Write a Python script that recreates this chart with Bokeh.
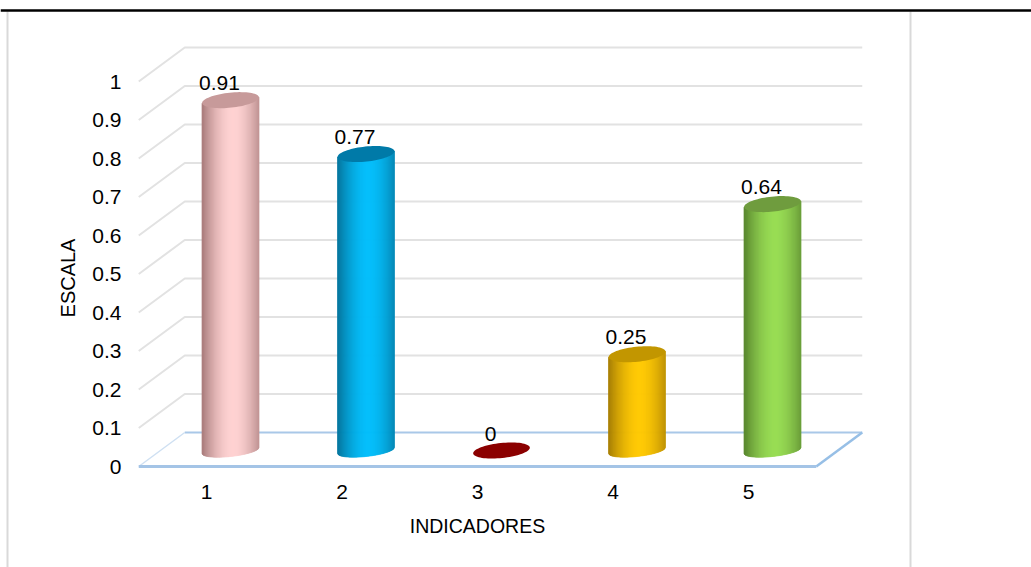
from bokeh.embed import file_html
from bokeh.models import FixedTicker, LinearAxis, Range1d
from bokeh.plotting import figure
from bokeh.resources import INLINE
from bokeh.core.properties import value
import math

# Chart data
categories = [1, 2, 3, 4, 5]
scores = [0.91, 0.77, 0, 0.25, 0.64]
score_labels = ["0.91", "0.77", "0", "0.25", "0.64"]
y_ticks = [0, 0.1, 0.2, 0.3, 0.4, 0.5, 0.6, 0.7, 0.8, 0.9, 1]
y_tick_labels = ["0", "0.1", "0.2", "0.3", "0.4", "0.5", "0.6", "0.7", "0.8", "0.9", "1"]
x_title = "INDICADORES"
y_title = "ESCALA"

# Cylinder colours: lit centre, shaded edge, top cap
body_light = ["#ffd3d3", "#00bdfb", "#8b0000", "#ffc800", "#99dd55"]
body_dark = ["#ad8080", "#00759f", "#8b0000", "#a97f00", "#5c8a31"]
cap_color = ["#c79a9a", "#007aa8", "#8b0000", "#c29600", "#6f9c3e"]

W, H = 1031, 567
PX_X = 135.5  # pixels per category
PX_Y = 385.0  # pixels per unit of the scale
X0, Y0 = 206.0, 466.0  # page position of category 1 / value 0


def dx(px):
    return px / PX_X


def dy(px):
    return px / PX_Y


def page_x(px):
    return 1 + (px - X0) / PX_X


def page_y(px):
    return (Y0 - px) / PX_Y


p = figure(
    width=W, height=H, output_backend="svg", toolbar_location=None,
    x_range=Range1d(page_x(0), page_x(W)), y_range=Range1d(page_y(H), page_y(0)),
    x_axis_location=None, y_axis_location=None,
    min_border=0, outline_line_color=None, background_fill_color="white",
)
p.grid.visible = False

# Panel edges
for x in (7, 910):
    p.segment(page_x(x), page_y(11), page_x(x), page_y(H), line_color="#d9d9d9", line_width=2)
p.segment(page_x(0), page_y(10), page_x(W), page_y(10), line_color="#000000", line_width=2.5)

# Floor and wall geometry
LEFT, RIGHT = 0.5, 5.5
DEPTH_X, DEPTH_Y = dx(46), dy(34)

# Gridlines on the back wall with their slanted side-wall part
for v in y_ticks[1:]:
    p.line([LEFT, LEFT + DEPTH_X, RIGHT + DEPTH_X], [v, v + DEPTH_Y, v + DEPTH_Y],
           line_color="#e2e2e2", line_width=2)

# Floor outline
p.line([LEFT + DEPTH_X, RIGHT + DEPTH_X], [DEPTH_Y, DEPTH_Y], line_color="#a9c8e8", line_width=2)
p.line([LEFT, LEFT + DEPTH_X], [0, DEPTH_Y], line_color="#cfe0f2", line_width=1.5)
p.line([RIGHT, RIGHT + DEPTH_X], [0, DEPTH_Y], line_color="#97bfe6", line_width=2.5)
p.line([LEFT, RIGHT], [0, 0], line_color="#a4c4e6", line_width=3)

# Cylinders
RADIUS = 28.5
BASE_MINOR = 6.0
CAP_MINOR = 7.5
TILT = 3.0
OFFSET_X, OFFSET_Y = dx(24), dy(16)
CAP_ANGLE = math.atan2(TILT, RADIUS)


def mix(a, b, t):
    ca = [int(a[i:i + 2], 16) for i in (1, 3, 5)]
    cb = [int(b[i:i + 2], 16) for i in (1, 3, 5)]
    return "#%02x%02x%02x" % tuple(round(u + (w - u) * t) for u, w in zip(ca, cb))


for cat, v, light, dark, cap in zip(categories, scores, body_light, body_dark, cap_color):
    cx = cat + OFFSET_X
    base = OFFSET_Y
    top = v + OFFSET_Y
    if v > 0:
        xs, ys, colors = [], [], []
        steps = int(RADIUS * 2)
        for i in range(steps):
            u0 = -1 + 2 * i / steps
            u1 = -1 + 2 * (i + 1) / steps
            mid = (u0 + u1) / 2
            # Highlight sits a little right of centre; the edges fall off smoothly
            shade = min(1.0, abs(mid - 0.1) / 1.05) ** 1.8
            low0 = base + dy(TILT * u0 - BASE_MINOR * math.sqrt(max(0, 1 - u0 * u0)))
            low1 = base + dy(TILT * u1 - BASE_MINOR * math.sqrt(max(0, 1 - u1 * u1)))
            high0 = top + dy(TILT * u0)
            high1 = top + dy(TILT * u1)
            xs.append([cx + dx(RADIUS * u0), cx + dx(RADIUS * u1), cx + dx(RADIUS * u1), cx + dx(RADIUS * u0)])
            ys.append([low0, low1, high1, high0])
            colors.append(mix(light, dark, shade))
        p.patches(xs, ys, fill_color=colors, line_color=colors, line_width=0.7)
    # Top cap: an oval turned to follow the slant of the body
    turns = [2 * math.pi * k / 72 for k in range(72)]
    c_a, s_a = math.cos(CAP_ANGLE), math.sin(CAP_ANGLE)
    p.patch(
        [cx + dx(RADIUS * math.cos(t) * c_a - CAP_MINOR * math.sin(t) * s_a) for t in turns],
        [top + dy(RADIUS * math.cos(t) * s_a + CAP_MINOR * math.sin(t) * c_a) for t in turns],
        fill_color=cap, line_color=None,
    )

# Value labels above each cylinder
p.text(
    x=[c + OFFSET_X for c in categories], y=[v + OFFSET_Y for v in scores], text=score_labels,
    text_font=value("Liberation Sans"), text_font_size="21px", text_color="#000000",
    text_align="center", text_baseline="alphabetic", x_offset=-11, y_offset=-17,
)

# Axes sit at fixed positions over the plot area
y_axis = LinearAxis(
    fixed_location=page_x(128), bounds=(-0.02, 1), ticker=FixedTicker(ticks=y_ticks),
    major_label_overrides=dict(zip(y_ticks, y_tick_labels)),
    axis_label=y_title, axis_label_text_font="Liberation Sans", axis_label_text_font_size="20px",
    axis_label_text_font_style="normal", axis_label_text_color="#000000", axis_label_standoff=10,
    major_label_text_font="Liberation Sans", major_label_text_font_size="21px",
    major_label_text_color="#000000", major_label_standoff=1,
    axis_line_color=None, major_tick_line_color=None, minor_tick_line_color=None,
)
x_axis = LinearAxis(
    fixed_location=page_y(474), bounds=(0.5, 5.5), ticker=FixedTicker(ticks=categories),
    major_label_overrides={c: str(c) for c in categories},
    axis_label=x_title, axis_label_text_font="Liberation Sans", axis_label_text_font_size="19.5px",
    axis_label_text_font_style="normal", axis_label_text_color="#000000", axis_label_standoff=13,
    major_label_text_font="Liberation Sans", major_label_text_font_size="21px",
    major_label_text_color="#000000", major_label_standoff=4,
    axis_line_color=None, major_tick_line_color=None, minor_tick_line_color=None,
)
p.add_layout(y_axis, "left")
p.add_layout(x_axis, "below")

open("out.html", "w").write(file_html(p, INLINE))
